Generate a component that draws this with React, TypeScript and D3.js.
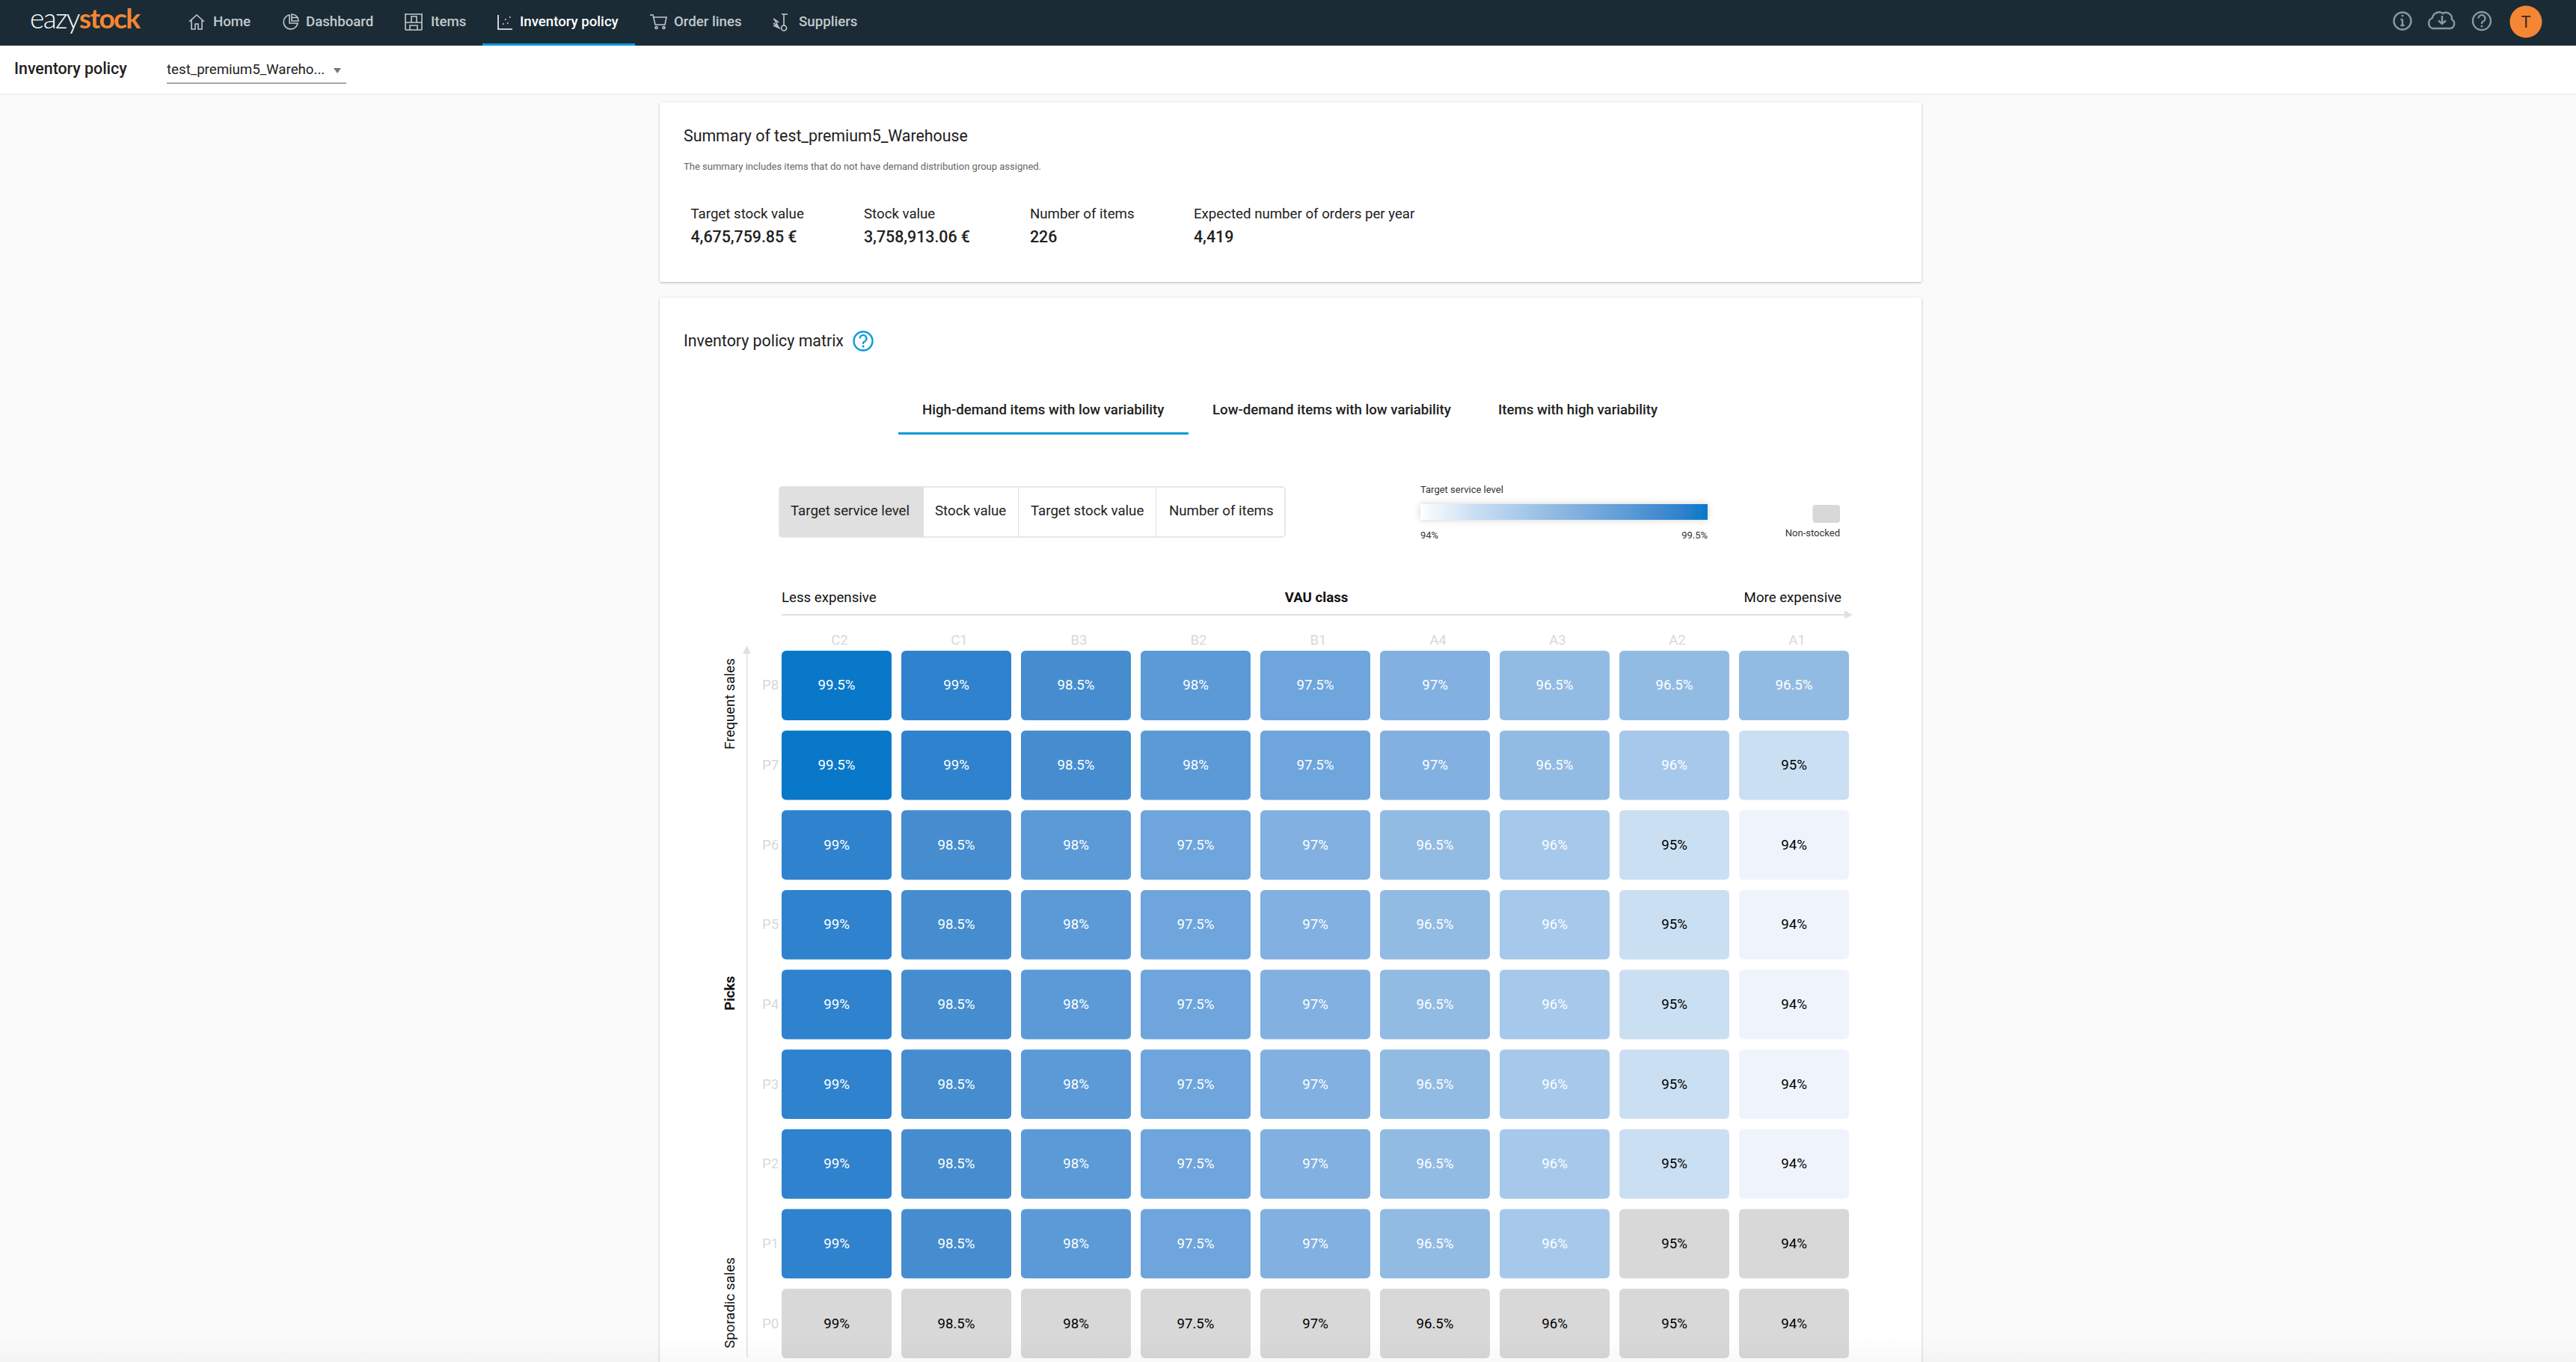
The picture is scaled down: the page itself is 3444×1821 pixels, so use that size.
import React from 'react';
import * as d3 from 'd3';

const WIDTH = 3444;
const HEIGHT = 1821;
const FONT = 'Roboto, sans-serif';
const TEXT = 18.67;

const vauClasses = ['C2', 'C1', 'B3', 'B2', 'B1', 'A4', 'A3', 'A2', 'A1'];
const pickClasses = ['P8', 'P7', 'P6', 'P5', 'P4', 'P3', 'P2', 'P1', 'P0'];

const rowP8 = [99.5, 99, 98.5, 98, 97.5, 97, 96.5, 96.5, 96.5];
const rowP7 = [99.5, 99, 98.5, 98, 97.5, 97, 96.5, 96, 95];
const rowP6toP0 = [99, 98.5, 98, 97.5, 97, 96.5, 96, 95, 94];
const serviceLevels = [rowP8, rowP7, rowP6toP0, rowP6toP0, rowP6toP0, rowP6toP0, rowP6toP0, rowP6toP0, rowP6toP0];

const nonStocked = ['P1-A2', 'P1-A1', ...vauClasses.map(v => `P0-${v}`)];

const levelDomain = [94, 95, 96, 96.5, 97, 97.5, 98, 98.5, 99, 99.5];
const levelColors = ['#eff4fc', '#cbdff3', '#a6c8ea', '#92bbe3', '#82b0e0', '#6ea5dc', '#5b9ad7', '#468dd0', '#2f82cd', '#0a78c8'];

const navLabels = ['Home', 'Dashboard', 'Items', 'Inventory policy', 'Order lines', 'Suppliers'];
const navX = [285, 409, 576, 695, 901, 1068];
const navIconX = [252, 377, 541, 665, 869, 1033];

const statLabels = ['Target stock value', 'Stock value', 'Number of items', 'Expected number of orders per year'];
const statValues = ['4,675,759.85 €', '3,758,913.06 €', '226', '4,419'];
const statX = [923.5, 1155, 1377, 1596];

const tabLabels = ['High-demand items with low variability', 'Low-demand items with low variability', 'Items with high variability'];
const tabX = [1233, 1621, 2003];

const toggleLabels = ['Target service level', 'Stock value', 'Target stock value', 'Number of items'];
const toggleX = [1057, 1250, 1378, 1563];
const toggleDividers = [1234, 1361, 1545];

const x = d3.scaleBand<string>().domain(vauClasses).range([1045, 2472]).paddingInner(0.08125);
const y = d3.scaleBand<string>().domain(pickClasses).range([870, 1816]).paddingInner(0.128);
const color = d3.scaleOrdinal<number, string>().domain(levelDomain).range(levelColors);
const legendX = d3.scaleLinear().domain([94, 99.5]).range([1899, 2283]);

const NAV_BG = '#1a2b35';
const BLUE = '#0a9ad8';
const GRID = '#e0e0e0';
const ICON = '#c3c9cc';

// nav icons, each drawn in a 24x24 box
const navIcons = [
  'M1 12 L11 3 L21 12 M4 10 V22 H9 V15 H13 V22 H18 V10',
  'M10 3 A9.5 9.5 0 1 0 21 14 H10 Z M13 2 A9 9 0 0 1 22 11 H13 Z M13 6.5 H22',
  'M1 1 V23 M23 1 V23 M1 23 H23 M1 13 H23 M1 2 H23 M7 17 H17 V23 H7 Z M9 5 H16 V13 H9 Z',
  'M1 3 V22 H20 M7 15 h1.5 M10 9 h1.5 M13 14 h1.5 M16 6 h1.5',
  'M0 3 H4 L7 16 H20 L22 6 H5 M7 20 a1.5 1.5 0 1 0 3 0 a1.5 1.5 0 1 0 -3 0 M17 20 a1.5 1.5 0 1 0 3 0 a1.5 1.5 0 1 0 -3 0',
  'M12 2 H20 M15 2 V17 M1 8 L8 13 M1 14 L7 18 L3 10 M1 17 L10 21 M15 17 a3.5 3.5 0 1 0 0.1 7 a3.5 3.5 0 1 0 -0.1 -7',
];

const Card = ({ top, bottom }: { top: number; bottom: number }) => (
  <rect x={882} y={top} width={1687} height={bottom - top} rx={3} fill="#fff" filter="url(#cardShadow)" />
);

const App: React.FC = () => (
  <svg
    width={WIDTH}
    height={HEIGHT}
    viewBox={`0 0 ${WIDTH} ${HEIGHT}`}
    style={{ position: 'absolute', left: 0, top: 0, display: 'block' }}
    fontFamily={FONT}
  >
    <defs>
      <filter id="cardShadow" x="-2%" y="-2%" width="104%" height="104%">
        <feDropShadow dx="0" dy="1" stdDeviation="1.4" floodColor="#000" floodOpacity="0.28" />
      </filter>
      <filter id="barShadow" x="-5%" y="-50%" width="110%" height="200%">
        <feDropShadow dx="0" dy="0" stdDeviation="4" floodColor="#000" floodOpacity="0.18" />
      </filter>
      <linearGradient id="legendGrad" x1="0" x2="1" y1="0" y2="0">
        <stop offset="0" stopColor="#fff" />
        {levelDomain.slice(1).map(d => (
          <stop key={d} offset={(legendX(d) - legendX(94)) / (legendX(99.5) - legendX(94))} stopColor={color(d)} />
        ))}
      </linearGradient>
      <linearGradient id="bottomFade" x1="0" x2="0" y1="0" y2="1">
        <stop offset="0" stopColor="#000" stopOpacity="0" />
        <stop offset="1" stopColor="#000" stopOpacity="0.025" />
      </linearGradient>
    </defs>

    <rect width={WIDTH} height={HEIGHT} fill="#fafafa" />

    {/* top bar */}
    <rect width={WIDTH} height={61} fill={NAV_BG} />
    <text x={40} y={38} fontFamily="Lato, sans-serif" fontSize={37} letterSpacing={-1.6}>
      <tspan fontWeight={300} fill="#fff">eazy</tspan>
      <tspan fontWeight={700} fill="#f58634">stock</tspan>
    </text>
    <rect x={645} y={58} width={204} height={3} fill={BLUE} />
    {navLabels.map((label, i) => {
      const active = label === 'Inventory policy';
      return (
        <g key={label}>
          <g transform={`translate(${navIconX[i]},17)`} fill="none" stroke={active ? '#fff' : ICON} strokeWidth={1.6}>
            <path d={navIcons[i]} />
          </g>
          <text x={navX[i]} y={35} fontSize={TEXT} fontWeight={500} fill={active ? '#fff' : ICON}>{label}</text>
        </g>
      );
    })}

    {/* right side icons */}
    <g fill="none" stroke="#8b979d" strokeWidth={2.4}>
      <circle cx={3212} cy={28} r={11.5} />
      <path d="M3212 26 V34 M3209.5 34 H3214.5 M3209.5 26 H3212" />
      <path d="M3252 38 H3276 A6.5 6.5 0 0 0 3278 26 A8 8 0 0 0 3266 18 A9 9 0 0 0 3252 24 A7.5 7.5 0 0 0 3252 38 Z" />
      <path d="M3265 21 V32 M3260 27.5 L3265 32 L3270 27.5" />
      <circle cx={3318} cy={28} r={12} />
      <path d="M3313.5 24.5 A4.5 4.5 0 1 1 3319 29 Q3318 30 3318 32" />
    </g>
    <circle cx={3318} cy={35} r={1.5} fill="#8b979d" />
    <circle cx={3212} cy={21} r={1.5} fill="#8b979d" />
    <circle cx={3377} cy={29} r={21.5} fill="#f58634" />
    <text x={3377} y={37} fontSize={22} textAnchor="middle" fill="#3a2a20">T</text>

    {/* sub header */}
    <rect y={61} width={WIDTH} height={64} fill="#fff" />
    <rect y={125} width={WIDTH} height={1.5} fill="#ececec" />
    <text x={19} y={99} fontSize={21.33} fontWeight={500} fill="#212121">Inventory policy</text>
    <text x={223} y={99} fontSize={TEXT} fill="#212121">test_premium5_Wareho...</text>
    <rect x={223} y={110.5} width={240} height={1.5} fill="#8c8c8c" />
    <path d="M446 91 H456 L451 98 Z" fill="#757575" />

    {/* summary card */}
    <Card top={137} bottom={377} />
    <text x={914} y={189} fontSize={21.33} fill="#212121">Summary of test_premium5_Warehouse</text>
    <text x={914} y={227} fontSize={13} fill="#666">The summary includes items that do not have demand distribution group assigned.</text>
    {statLabels.map((label, i) => (
      <g key={label}>
        <text x={statX[i]} y={291.5} fontSize={TEXT} fill="#212121">{label}</text>
        <text x={statX[i]} y={323.5} fontSize={21.33} fontWeight={500} fill="#212121">{statValues[i]}</text>
      </g>
    ))}

    {/* matrix card */}
    <Card top={398} bottom={1900} />
    <text x={914} y={463} fontSize={21.33} fill="#212121">Inventory policy matrix</text>
    <circle cx={1154} cy={456} r={12.5} fill="none" stroke={BLUE} strokeWidth={2.4} />
    <path d="M1149.5 452.5 A4.5 4.5 0 1 1 1155 457 Q1154 458 1154 460" fill="none" stroke={BLUE} strokeWidth={2.4} />
    <circle cx={1154} cy={463} r={1.6} fill={BLUE} />

    {tabLabels.map((label, i) => (
      <text key={label} x={tabX[i]} y={554} fontSize={TEXT} fontWeight={500} fill="#212121">{label}</text>
    ))}
    <rect x={1201} y={578} width={388} height={3} fill={BLUE} />

    {/* value toggle */}
    <path d="M1234 651 H1046 a4 4 0 0 0 -4 4 V714 a4 4 0 0 0 4 4 H1234 Z" fill={GRID} />
    <rect x={1042} y={651} width={676} height={67} rx={4} fill="none" stroke={GRID} strokeWidth={1.5} />
    {toggleDividers.map(d => (
      <rect key={d} x={d} y={651} width={1} height={67} fill={GRID} />
    ))}
    {toggleLabels.map((label, i) => (
      <text key={label} x={toggleX[i]} y={689} fontSize={TEXT} fill="#212121">{label}</text>
    ))}

    {/* legend */}
    <text x={1899} y={659} fontSize={13} fill="#333">Target service level</text>
    <rect x={legendX(94)} y={674} width={legendX(99.5) - legendX(94)} height={21} fill="url(#legendGrad)" filter="url(#barShadow)" />
    <text x={legendX(94)} y={720} fontSize={13} fill="#333">94%</text>
    <text x={legendX(99.5)} y={720} fontSize={13} fill="#333" textAnchor="end">99.5%</text>
    <rect x={2423.5} y={675} width={36.5} height={24} rx={4} fill="#d8d8d8" />
    <text x={2460} y={717} fontSize={13} fill="#333" textAnchor="end">Non-stocked</text>

    {/* x axis header */}
    <text x={1045} y={805} fontSize={TEXT} fill="#111">Less expensive</text>
    <text x={1760} y={805} fontSize={TEXT} fontWeight={700} fill="#111" textAnchor="middle">VAU class</text>
    <text x={2462} y={805} fontSize={TEXT} fill="#111" textAnchor="end">More expensive</text>
    <rect x={1045} y={821} width={1422} height={2} fill={GRID} />
    <path d="M2466 816.5 L2477 822 L2466 827.5 Z" fill={GRID} />

    {/* y axis header */}
    <rect x={998} y={872} width={1.5} height={943} fill={GRID} />
    <path d="M993 874 L998.6 863 L1004 874 Z" fill={GRID} />
    <text transform="translate(982,941) rotate(-90)" fontSize={TEXT} fill="#111" textAnchor="middle">Frequent sales</text>
    <text transform="translate(982,1328) rotate(-90)" fontSize={TEXT} fontWeight={700} fill="#111" textAnchor="middle">Picks</text>
    <text transform="translate(982,1742) rotate(-90)" fontSize={TEXT} fill="#111" textAnchor="middle">Sporadic sales</text>

    {/* axis labels */}
    {vauClasses.map(v => (
      <text key={v} x={x(v)! + x.bandwidth() / 2 + 4} y={862} fontSize={TEXT} fill="#d8d8d8" textAnchor="middle">{v}</text>
    ))}
    {pickClasses.map(p => (
      <text key={p} x={1019} y={y(p)! + y.bandwidth() / 2 + 6} fontSize={TEXT} fill="#d8d8d8">{p}</text>
    ))}

    {/* matrix cells */}
    {pickClasses.map((p, r) =>
      vauClasses.map((v, c) => {
        const value = serviceLevels[r][c];
        const off = nonStocked.includes(`${p}-${v}`);
        const dark = off || value <= 95;
        return (
          <g key={`${p}-${v}`}>
            <rect x={x(v)} y={y(p)} width={x.bandwidth()} height={y.bandwidth()} rx={6} fill={off ? '#d8d8d8' : color(value)} />
            <text
              x={x(v)! + x.bandwidth() / 2}
              y={y(p)! + y.bandwidth() / 2 + 6}
              fontSize={TEXT}
              fill={dark ? '#000' : '#fff'}
              textAnchor="middle"
            >
              {value}%
            </text>
          </g>
        );
      })
    )}

    <rect y={1785} width={WIDTH} height={36} fill="url(#bottomFade)" />
  </svg>
);

export default App;
